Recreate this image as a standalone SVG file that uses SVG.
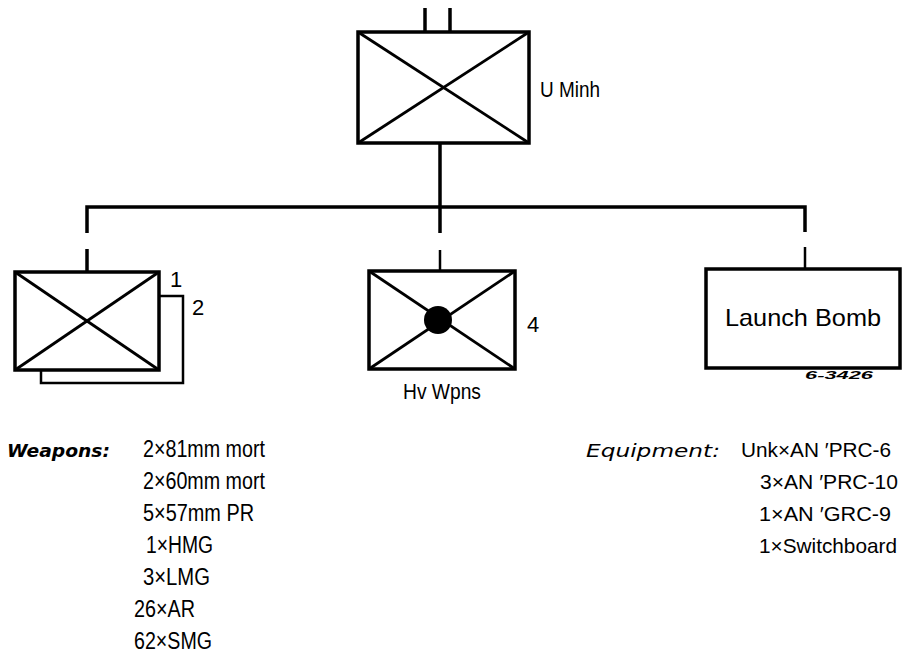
<svg xmlns="http://www.w3.org/2000/svg" width="908" height="658" viewBox="0 0 908 658">
<style>
.box{fill:none;stroke:#000;stroke-width:3.5;stroke-linejoin:miter}
.x{stroke:#000;stroke-width:2.8}
.ln{fill:none;stroke:#000;stroke-width:3.5}
.thin{fill:none;stroke:#000;stroke-width:2.5}
text{font-family:"Liberation Sans Narrow","Liberation Sans","DejaVu Sans",sans-serif;fill:#000}
.lbl{font-size:22px}
.lst{font-size:23px}
.eqi{font-size:21px}
.hd{font-family:"DejaVu Sans","Liberation Sans",sans-serif;font-size:17px;font-style:italic;font-weight:bold}
.eq{font-family:"DejaVu Sans","Liberation Sans",sans-serif;font-size:18px;font-style:italic}
</style>
<rect width="908" height="658" fill="#fff"/>
<g id="connectors">
<line class="ln" x1="425" y1="8" x2="425" y2="32"/>
<line class="ln" x1="450" y1="8" x2="450" y2="32"/>
<polyline class="ln" points="87,233 87,207 805,207 805,232"/>
<line class="ln" x1="440" y1="143" x2="440" y2="233"/>
<line class="ln" x1="87" y1="249" x2="87" y2="271"/>
<line class="thin" x1="440" y1="250" x2="440" y2="271"/>
<line class="thin" x1="805" y1="247" x2="805" y2="269"/>
</g>
<g id="u-minh">
<rect class="box" x="358" y="32" width="171" height="111"/>
<line class="x" x1="358" y1="32" x2="529" y2="143"/>
<line class="x" x1="529" y1="32" x2="358" y2="143"/>
<text class="lbl" x="540" y="97" textLength="60" lengthAdjust="spacingAndGlyphs">U Minh</text>
</g>
<g id="battalions-1-2">
<polyline class="thin" points="159,296 183,296 183,383 41,383 41,370"/>
<rect class="box" x="15" y="272" width="144" height="98"/>
<line class="x" x1="15" y1="272" x2="159" y2="370"/>
<line class="x" x1="159" y1="272" x2="15" y2="370"/>
<text class="lbl" x="170" y="287">1</text>
<text class="lbl" x="192" y="315">2</text>
</g>
<g id="hv-wpns">
<rect class="box" x="369" y="271" width="146" height="98"/>
<line class="x" x1="369" y1="271" x2="515" y2="369"/>
<line class="x" x1="515" y1="271" x2="369" y2="369"/>
<circle cx="438" cy="320" r="14" fill="#000"/>
<text class="lbl" x="527" y="332">4</text>
<text class="lbl" x="442" y="399" text-anchor="middle" textLength="78" lengthAdjust="spacingAndGlyphs">Hv Wpns</text>
</g>
<g id="launch-bomb">
<rect class="box" x="706" y="269" width="194" height="99"/>
<text x="803" y="326" text-anchor="middle" style="font-family:'Liberation Sans',sans-serif;font-size:24px" textLength="156" lengthAdjust="spacingAndGlyphs">Launch Bomb</text>
<text x="805" y="379" style="font-family:'Liberation Sans',sans-serif;font-size:11px;font-style:italic;font-weight:bold" textLength="68" lengthAdjust="spacingAndGlyphs">6-3426</text>
</g>
<g id="weapons">
<text class="hd" x="7" y="457" textLength="103" lengthAdjust="spacingAndGlyphs">Weapons:</text>
<text class="lst" x="143" y="457" textLength="122" lengthAdjust="spacingAndGlyphs">2×81mm mort</text>
<text class="lst" x="143" y="489" textLength="122" lengthAdjust="spacingAndGlyphs">2×60mm mort</text>
<text class="lst" x="143" y="521" textLength="111" lengthAdjust="spacingAndGlyphs">5×57mm PR</text>
<text class="lst" x="146" y="553" textLength="67" lengthAdjust="spacingAndGlyphs">1×HMG</text>
<text class="lst" x="143" y="585" textLength="67" lengthAdjust="spacingAndGlyphs">3×LMG</text>
<text class="lst" x="134" y="617" textLength="61" lengthAdjust="spacingAndGlyphs">26×AR</text>
<text class="lst" x="134" y="649" textLength="78" lengthAdjust="spacingAndGlyphs">62×SMG</text>
</g>
<g id="equipment">
<text class="eq" x="586" y="457" textLength="134" lengthAdjust="spacingAndGlyphs">Equipment:</text>
<text class="eqi" x="741" y="457" textLength="150" lengthAdjust="spacingAndGlyphs">Unk×AN ′PRC-6</text>
<text class="eqi" x="760" y="489" textLength="138" lengthAdjust="spacingAndGlyphs">3×AN ′PRC-10</text>
<text class="eqi" x="759" y="521" textLength="132" lengthAdjust="spacingAndGlyphs">1×AN ′GRC-9</text>
<text class="eqi" x="759" y="553" textLength="138" lengthAdjust="spacingAndGlyphs">1×Switchboard</text>
</g>
</svg>
